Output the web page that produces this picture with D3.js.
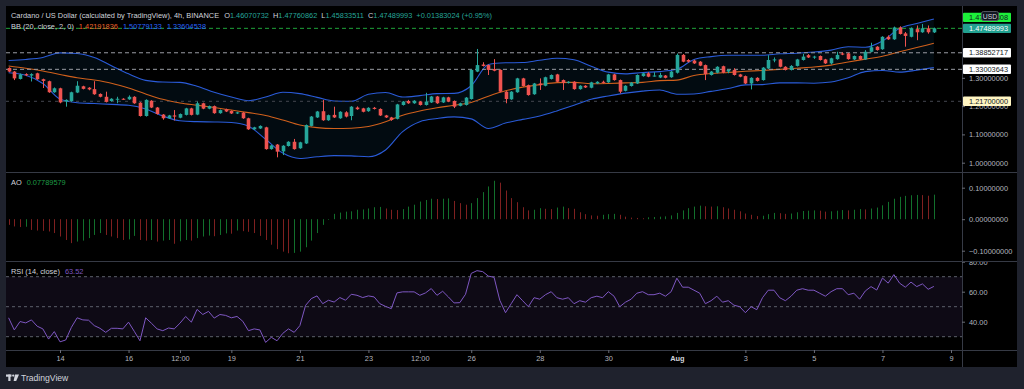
<!DOCTYPE html>
<html>
<head>
<meta charset="utf-8">
<script src="https://cdn.jsdelivr.net/npm/d3@7"></script>
<style>
html, body { margin: 0; padding: 0; background: #1f222d; }
svg { display: block; font-family: "Liberation Sans", Arial, sans-serif; }
</style>
</head>
<body>
<svg id="chart" width="1024" height="389"></svg>
<script>
// ---- data (ADA/USD 4h, BINANCE) ----
var firstCandle = Date.UTC(2021, 6, 12, 12); // first visible 4h bar
var barHours = 4;

var opens = [1.335,1.322,1.296,1.313,1.308,1.316,1.295,1.288,1.249,1.263,
 1.216,1.218,1.248,1.270,1.265,1.260,1.243,1.233,1.218,1.224,
 1.226,1.224,1.233,1.212,1.165,1.219,1.195,1.170,1.157,1.167,
 1.159,1.169,1.192,1.170,1.210,1.191,1.200,1.175,1.189,1.183,
 1.174,1.177,1.157,1.118,1.121,1.125,1.048,1.064,1.040,1.059,
 1.074,1.051,1.068,1.130,1.160,1.182,1.150,1.169,1.157,1.178,
 1.165,1.195,1.192,1.182,1.194,1.190,1.167,1.160,1.155,1.204,
 1.218,1.210,1.216,1.204,1.213,1.234,1.213,1.231,1.218,1.201,
 1.204,1.225,1.322,1.347,1.345,1.331,1.328,1.251,1.224,1.249,
 1.298,1.274,1.242,1.280,1.272,1.296,1.312,1.292,1.282,1.286,
 1.260,1.272,1.265,1.280,1.286,1.284,1.312,1.292,1.254,1.271,
 1.280,1.306,1.316,1.306,1.301,1.308,1.302,1.318,1.381,1.363,
 1.361,1.357,1.345,1.310,1.318,1.341,1.322,1.328,1.312,1.306,
 1.280,1.300,1.292,1.333,1.362,1.365,1.339,1.328,1.342,1.363,
 1.380,1.372,1.377,1.365,1.351,1.366,1.386,1.386,1.365,1.377,
 1.365,1.392,1.410,1.401,1.445,1.436,1.478,1.457,1.445,1.472,
 1.461,1.475,1.4607];

var highs = [1.337,1.324,1.315,1.316,1.316,1.318,1.297,1.290,1.266,1.265,
 1.224,1.251,1.288,1.272,1.267,1.288,1.245,1.251,1.228,1.233,
 1.228,1.238,1.235,1.214,1.224,1.221,1.197,1.172,1.169,1.186,
 1.174,1.194,1.194,1.216,1.212,1.202,1.202,1.188,1.191,1.185,
 1.180,1.179,1.159,1.127,1.132,1.127,1.063,1.066,1.062,1.076,
 1.084,1.074,1.135,1.165,1.183,1.222,1.170,1.198,1.182,1.182,
 1.200,1.199,1.194,1.196,1.197,1.192,1.169,1.162,1.208,1.218,
 1.222,1.221,1.218,1.247,1.236,1.236,1.233,1.233,1.220,1.212,
 1.232,1.330,1.402,1.355,1.347,1.366,1.330,1.253,1.253,1.300,
 1.300,1.276,1.282,1.298,1.304,1.312,1.314,1.294,1.288,1.288,
 1.274,1.274,1.286,1.288,1.290,1.314,1.314,1.294,1.274,1.285,
 1.312,1.318,1.320,1.320,1.318,1.310,1.324,1.386,1.384,1.366,
 1.364,1.359,1.347,1.324,1.341,1.343,1.330,1.334,1.314,1.308,
 1.302,1.302,1.338,1.380,1.372,1.367,1.341,1.345,1.367,1.385,
 1.384,1.378,1.379,1.367,1.371,1.392,1.390,1.388,1.379,1.379,
 1.398,1.424,1.412,1.447,1.450,1.481,1.482,1.462,1.478,1.485,
 1.490,1.485,1.4776];

var lows = [1.320,1.292,1.294,1.306,1.287,1.293,1.264,1.247,1.247,1.210,
 1.198,1.215,1.246,1.259,1.256,1.240,1.231,1.213,1.216,1.210,
 1.222,1.222,1.208,1.163,1.163,1.193,1.170,1.152,1.155,1.149,
 1.157,1.167,1.167,1.168,1.189,1.189,1.173,1.173,1.179,1.172,
 1.172,1.155,1.116,1.116,1.119,1.046,1.046,1.019,1.027,1.057,
 1.046,1.049,1.066,1.128,1.158,1.148,1.148,1.158,1.155,1.160,
 1.150,1.187,1.178,1.180,1.188,1.165,1.158,1.148,1.153,1.202,
 1.208,1.208,1.202,1.202,1.211,1.208,1.211,1.214,1.193,1.199,
 1.202,1.223,1.320,1.340,1.310,1.323,1.249,1.210,1.222,1.247,
 1.269,1.237,1.240,1.257,1.270,1.294,1.284,1.257,1.280,1.258,
 1.258,1.264,1.263,1.278,1.280,1.282,1.290,1.245,1.252,1.269,
 1.278,1.304,1.302,1.304,1.299,1.298,1.300,1.315,1.355,1.354,
 1.349,1.341,1.292,1.308,1.316,1.316,1.316,1.308,1.302,1.278,
 1.259,1.287,1.290,1.331,1.355,1.337,1.326,1.326,1.340,1.361,
 1.370,1.367,1.361,1.349,1.347,1.364,1.380,1.364,1.363,1.363,
 1.363,1.390,1.396,1.399,1.434,1.434,1.453,1.410,1.443,1.433,
 1.459,1.456,1.4583];

var closes = [1.322,1.298,1.312,1.309,1.313,1.295,1.289,1.249,1.263,1.213,
 1.222,1.249,1.272,1.261,1.259,1.242,1.233,1.215,1.226,1.226,
 1.224,1.233,1.210,1.165,1.222,1.195,1.172,1.157,1.167,1.163,
 1.172,1.192,1.169,1.210,1.191,1.200,1.175,1.186,1.181,1.174,
 1.178,1.157,1.118,1.125,1.130,1.048,1.061,1.039,1.060,1.074,
 1.048,1.072,1.133,1.163,1.181,1.150,1.168,1.160,1.180,1.163,
 1.198,1.189,1.180,1.194,1.190,1.167,1.160,1.151,1.206,1.216,
 1.210,1.219,1.204,1.216,1.234,1.210,1.231,1.216,1.198,1.210,
 1.230,1.328,1.345,1.342,1.328,1.325,1.251,1.225,1.251,1.298,
 1.271,1.239,1.280,1.274,1.302,1.310,1.286,1.282,1.286,1.260,
 1.272,1.266,1.284,1.286,1.282,1.312,1.292,1.251,1.272,1.283,
 1.310,1.316,1.304,1.308,1.310,1.300,1.322,1.381,1.357,1.357,
 1.351,1.343,1.313,1.322,1.339,1.318,1.328,1.310,1.304,1.280,
 1.300,1.289,1.336,1.363,1.365,1.339,1.328,1.342,1.365,1.375,
 1.372,1.375,1.363,1.351,1.369,1.381,1.382,1.366,1.377,1.365,
 1.392,1.408,1.398,1.445,1.436,1.478,1.455,1.448,1.475,1.461,
 1.475,1.461,1.4749];

// Bollinger bands, read every 3rd bar
var bbStep = 3;
var bbUpper = [1.361,1.365,1.372,1.388,1.386,1.372,1.343,1.314,1.291,1.285,
 1.284,1.270,1.249,1.232,1.219,1.232,1.249,1.244,1.231,1.218,
 1.217,1.242,1.248,1.232,1.237,1.244,1.245,1.272,1.347,1.353,
 1.354,1.362,1.369,1.364,1.341,1.320,1.314,1.319,1.322,1.330,
 1.365,1.375,1.380,1.380,1.380,1.385,1.387,1.391,1.398,1.410,
 1.408,1.430,1.475,1.492,1.508];
var bbBasis = [1.342,1.334,1.324,1.312,1.300,1.292,1.281,1.264,1.243,1.224,
 1.211,1.203,1.195,1.186,1.177,1.167,1.151,1.133,1.124,1.121,
 1.122,1.128,1.145,1.168,1.183,1.194,1.203,1.213,1.235,1.254,
 1.267,1.276,1.283,1.284,1.279,1.280,1.282,1.284,1.290,1.292,
 1.308,1.315,1.319,1.323,1.326,1.330,1.334,1.338,1.345,1.356,
 1.366,1.376,1.392,1.407,1.422];
var bbLower = [1.318,1.309,1.280,1.225,1.212,1.209,1.206,1.203,1.190,1.165,
 1.148,1.145,1.144,1.142,1.129,1.083,1.034,1.015,1.021,1.025,
 1.024,1.021,1.045,1.110,1.145,1.156,1.162,1.155,1.121,1.140,
 1.153,1.165,1.183,1.203,1.224,1.236,1.246,1.253,1.257,1.242,
 1.243,1.252,1.262,1.275,1.276,1.282,1.282,1.281,1.285,1.300,
 1.322,1.326,1.320,1.327,1.336];

var aoValues = [-0.018,-0.023,-0.025,-0.024,-0.034,-0.036,-0.037,-0.039,-0.044,-0.055,
 -0.066,-0.076,-0.071,-0.068,-0.060,-0.050,-0.044,-0.050,-0.055,-0.060,
 -0.066,-0.064,-0.053,-0.066,-0.068,-0.066,-0.071,-0.068,-0.066,-0.078,
 -0.070,-0.066,-0.068,-0.060,-0.055,-0.052,-0.054,-0.050,-0.045,-0.046,
 -0.036,-0.038,-0.040,-0.044,-0.053,-0.066,-0.081,-0.095,-0.103,-0.108,
 -0.107,-0.103,-0.089,-0.068,-0.044,-0.018,-0.002,0.017,0.021,0.024,
 0.025,0.030,0.031,0.034,0.038,0.039,0.034,0.030,0.029,0.032,
 0.040,0.046,0.056,0.061,0.065,0.064,0.065,0.066,0.058,0.051,
 0.046,0.051,0.067,0.086,0.104,0.122,0.116,0.091,0.067,0.054,
 0.038,0.028,0.030,0.035,0.033,0.032,0.037,0.040,0.035,0.033,
 0.022,0.016,0.012,0.011,0.014,0.016,0.017,0.014,0.008,0.005,
 0.004,0.003,0.006,0.007,0.008,0.009,0.012,0.020,0.028,0.035,
 0.040,0.043,0.041,0.040,0.041,0.038,0.034,0.030,0.025,0.018,
 0.014,0.010,0.011,0.016,0.020,0.019,0.017,0.018,0.022,0.026,
 0.027,0.028,0.027,0.024,0.025,0.027,0.029,0.028,0.030,0.032,
 0.031,0.034,0.037,0.044,0.055,0.065,0.071,0.074,0.076,0.077,
 0.0765,0.0745,0.0779];

var rsiValues = [42.6,34.5,40.1,39.2,41.2,37.0,35.2,28.4,33.4,26.6,
 27.8,36.3,42.6,41.2,41.0,37.4,35.6,32.9,35.6,35.6,
 35.2,39.7,33.6,27.3,42.6,39.0,35.2,34.0,35.8,35.2,
 39.0,43.5,39.7,48.2,44.8,46.9,42.4,44.8,44.2,42.6,
 43.5,40.3,34.0,35.2,34.5,26.2,29.6,27.3,32.2,35.2,
 32.9,37.4,50.9,55.4,57.2,52.0,54.3,53.1,56.1,54.3,
 58.3,57.6,56.1,57.2,56.5,52.0,50.2,48.7,59.2,59.9,
 59.9,59.9,57.6,59.2,62.1,57.6,60.3,56.5,52.5,52.7,
 58.3,72.2,74.0,73.4,70.4,69.6,54.3,46,52,58,
 54,50,56,55,58,60,56,55,56,52,
 54,53,56,57,56,60,57,50,53,55,
 59,60,58,58,59,57,60,69,63,63,
 61,59,52,54,57,53,54,51,50,46,
 50,48,56,61,61,56,54,57,61,62,
 61,61,59,57,60,62,62,58,59,55,
 60.5,63.4,61.1,69.1,65.7,71.4,65.7,63.0,66.4,63.4,
 65.2,61.6,63.52];

// time axis ticks
var tickDates = [[6,14,0],[6,16,0],[6,17,12],[6,19,0],[6,21,0],[6,23,0],[6,24,12],[6,26,0],
                 [6,28,0],[6,30,0],[7,1,0],[7,3,0],[7,5,0],[7,7,0],[7,9,0]];
var tickLabels = ["14","16","12:00","19","21","23","12:00","26","28","30","Aug","3","5","7","9"];

// price scale ticks that peek out from behind the labels
var priceTicks = [1.0, 1.1, 1.2, 1.3];

// horizontal price lines / labels on the price scale
var lastClose = 1.47489993;
var lineLevels = [1.38852717, 1.33003643];
var darkLevel = 1.217;
var darkLevelText = "1.21700000";

// ---- layout ----
var svg = d3.select("#chart");
var plotL = 6, plotR = 962, axisR = 1017;
var mainTop = 6, mainBot = 172, aoBot = 261, rsiBot = 350, timeBot = 367;
var axisColor = "#b2b5be", sepColor = "#363a45";
var up = "#26a69a", down = "#ef5350";

var x = d3.scaleUtc()
    .domain([new Date(Date.UTC(2021, 6, 14)), new Date(Date.UTC(2021, 7, 9))])
    .range([60, 951]);
var y = d3.scaleLinear().domain([1.0, 1.475]).range([162.7, 28.3]);
var yAO = d3.scaleLinear().domain([-0.1, 0.1]).range([250.7, 187.7]);
var yRSI = d3.scaleLinear().domain([40, 60]).range([321.7, 291.7]);

var times = closes.map(function(d, i) { return new Date(firstCandle + i * barHours * 3600e3); });
var bbTimes = bbUpper.map(function(d, i) { return times[i * bbStep]; });

// frame
svg.append("rect").attr("width", 1024).attr("height", 389).attr("fill", "#1f222d");
svg.append("rect").attr("x", plotL).attr("y", mainTop).attr("width", axisR - plotL)
    .attr("height", timeBot - mainTop).attr("fill", "#000");

var defs = svg.append("defs");
function clip(id, y0, y1) {
  defs.append("clipPath").attr("id", id).append("rect")
      .attr("x", plotL).attr("y", y0).attr("width", plotR - plotL).attr("height", y1 - y0);
}
clip("cMain", mainTop, mainBot);
clip("cAO", mainBot, aoBot);
clip("cRSI", aoBot, rsiBot);

// ---- main pane ----
var gMain = svg.append("g").attr("clip-path", "url(#cMain)");

var bandArea = d3.area()
    .x(function(d, i) { return x(bbTimes[i]); })
    .y0(function(d, i) { return y(bbLower[i]); })
    .y1(function(d) { return y(d); })
    .curve(d3.curveMonotoneX);
gMain.append("path").datum(bbUpper).attr("d", bandArea).attr("fill", "rgba(33,150,243,0.07)");

function bbLine(arr, color) {
  var line = d3.line()
      .x(function(d, i) { return x(bbTimes[i]); })
      .y(function(d) { return y(d); })
      .curve(d3.curveMonotoneX);
  gMain.append("path").datum(arr).attr("d", line)
      .attr("fill", "none").attr("stroke", color).attr("stroke-width", 1.1);
}
bbLine(bbUpper, "#2a5bd8");
bbLine(bbLower, "#2a5bd8");
bbLine(bbBasis, "#d0601c");

// dashed price lines
gMain.selectAll("line.lvl").data(lineLevels).join("line")
    .attr("x1", plotL).attr("x2", plotR)
    .attr("y1", function(d) { return y(d); }).attr("y2", function(d) { return y(d); })
    .attr("stroke", "#9a9ca4").attr("stroke-dasharray", "4,3");
gMain.append("line").attr("x1", plotL).attr("x2", plotR)
    .attr("y1", y(darkLevel)).attr("y2", y(darkLevel))
    .attr("stroke", "#44474f").attr("stroke-dasharray", "3,4");
gMain.append("line").attr("x1", plotL).attr("x2", plotR)
    .attr("y1", y(lastClose)).attr("y2", y(lastClose))
    .attr("stroke", "#1fa33a").attr("stroke-dasharray", "4,3");

// candles
var bodyW = 3.6;
var candle = gMain.selectAll("g.candle").data(closes).join("g").attr("class", "candle");
candle.append("line")
    .attr("x1", function(d, i) { return Math.round(x(times[i])) + 0.5; })
    .attr("x2", function(d, i) { return Math.round(x(times[i])) + 0.5; })
    .attr("y1", function(d, i) { return y(highs[i]); })
    .attr("y2", function(d, i) { return y(lows[i]); })
    .attr("stroke", function(d, i) { return d >= opens[i] ? up : down; });
candle.append("rect")
    .attr("x", function(d, i) { return Math.round(x(times[i])) + 0.5 - bodyW / 2; })
    .attr("width", bodyW)
    .attr("y", function(d, i) { return y(Math.max(d, opens[i])); })
    .attr("height", function(d, i) { return Math.max(1, Math.abs(y(d) - y(opens[i]))); })
    .attr("fill", function(d, i) { return d >= opens[i] ? up : down; });

// ---- AO pane ----
var gAO = svg.append("g").attr("clip-path", "url(#cAO)");
gAO.selectAll("line.ao").data(aoValues).join("line")
    .attr("x1", function(d, i) { return Math.round(x(times[i])) + 0.5; })
    .attr("x2", function(d, i) { return Math.round(x(times[i])) + 0.5; })
    .attr("y1", yAO(0))
    .attr("y2", function(d) { return yAO(d); })
    .attr("stroke-width", 1)
    .attr("stroke", function(d, i) { return (i > 0 && d > aoValues[i - 1]) ? "#12702c" : "#7f2020"; });

// ---- RSI pane ----
var gRSI = svg.append("g").attr("clip-path", "url(#cRSI)");
gRSI.append("rect").attr("x", plotL).attr("width", plotR - plotL)
    .attr("y", yRSI(70)).attr("height", yRSI(30) - yRSI(70))
    .attr("fill", "rgba(126,87,194,0.11)");
gRSI.selectAll("line.band").data([70, 50, 30]).join("line")
    .attr("x1", plotL).attr("x2", plotR)
    .attr("y1", function(d) { return yRSI(d); }).attr("y2", function(d) { return yRSI(d); })
    .attr("stroke", "#5d606b").attr("stroke-dasharray", "3,3");
gRSI.append("path").datum(rsiValues)
    .attr("d", d3.line().x(function(d, i) { return x(times[i]); }).y(function(d) { return yRSI(d); }))
    .attr("fill", "none").attr("stroke", "#7e57c2").attr("stroke-width", 1);

// ---- separators ----
[mainBot, aoBot, rsiBot].forEach(function(yy) {
  svg.append("line").attr("x1", plotL).attr("x2", axisR).attr("y1", yy + 0.5).attr("y2", yy + 0.5)
      .attr("stroke", sepColor);
});
svg.append("line").attr("x1", plotR + 0.5).attr("x2", plotR + 0.5).attr("y1", mainTop).attr("y2", timeBot)
    .attr("stroke", sepColor);

// ---- axes ----
function styleAxis(g) {
  g.select(".domain").remove();
  g.selectAll(".tick line").attr("stroke", "#6a6d78");
  g.selectAll(".tick text").attr("fill", axisColor).style("font-size", "7.4px");
}
var fmt8 = d3.format(".8f");
svg.append("g").attr("transform", "translate(" + plotR + ",0)")
    .call(d3.axisRight(y).tickValues(priceTicks).tickFormat(fmt8).tickSize(3).tickPadding(4))
    .call(styleAxis);
svg.append("g").attr("transform", "translate(" + plotR + ",0)")
    .call(d3.axisRight(yAO).tickValues([-0.1, 0, 0.1])
      .tickFormat(function(d) { return fmt8(d).replace("-", "\u2212"); }).tickSize(3).tickPadding(4))
    .call(styleAxis);
defs.append("clipPath").attr("id", "cRSIaxis").append("rect")
    .attr("x", plotR).attr("y", aoBot + 1).attr("width", 60).attr("height", rsiBot - aoBot - 1);
svg.append("g").attr("clip-path", "url(#cRSIaxis)").append("g").attr("transform", "translate(" + plotR + ",0)")
    .call(d3.axisRight(yRSI).tickValues([40, 60, 80]).tickFormat(d3.format(".2f")).tickSize(3).tickPadding(4))
    .call(styleAxis);

var tickD = tickDates.map(function(t) { return new Date(Date.UTC(2021, t[0], t[1], t[2])); });
var tAxis = svg.append("g").attr("transform", "translate(0," + rsiBot + ")")
    .call(d3.axisBottom(x).tickValues(tickD).tickFormat(function(d, i) { return tickLabels[i]; })
      .tickSize(3).tickPadding(3))
    .call(styleAxis);
tAxis.selectAll(".tick text").filter(function(d, i) { return tickLabels[i] === "Aug"; })
    .attr("font-weight", "bold").attr("fill", "#d1d4dc");

// ---- price scale labels ----
function priceLabel(yy, text, bg, fg) {
  svg.append("rect").attr("x", plotR + 1).attr("y", yy - 4.7).attr("width", 48).attr("height", 9.4)
      .attr("rx", 1).attr("fill", bg);
  svg.append("text").attr("x", 969).attr("y", yy + 2.6).attr("fill", fg)
      .style("font-size", "7.4px").text(text);
}
priceLabel(y(darkLevel), darkLevelText, "#fff5c2", "#131722");
lineLevels.forEach(function(v) { priceLabel(y(v), v.toFixed(8), "#ffffff", "#131722"); });
priceLabel(y(lastClose), lastClose.toFixed(8), "#22a190", "#ffffff");
priceLabel(y(lastClose) - 11, "1.47760808", "#1cf03a", "#131722");
svg.append("rect").attr("x", 981.5).attr("y", 11.5).attr("width", 17).attr("height", 9)
    .attr("rx", 2).attr("fill", "#131722").attr("stroke", "#50535e");
svg.append("text").attr("x", 990).attr("y", 18.5).attr("text-anchor", "middle")
    .attr("fill", "#d1d4dc").style("font-size", "6.8px").text("USD");

// ---- legends ----
function legend(yy, parts) {
  var t = svg.append("text").attr("x", 11).attr("y", yy).style("font-size", "7.4px");
  parts.forEach(function(p) {
    t.append("tspan").attr("dx", p[2] || 0).attr("fill", p[1]).text(p[0]);
  });
}
var txt = "#d1d4dc";
legend(18, [["Cardano / US Dollar (calculated by TradingView), 4h, BINANCE", txt],
  ["O", txt, 5], ["1.46070732", up], ["H", txt, 4], ["1.47760862", up], ["L", txt, 4], ["1.45833511", up],
  ["C", txt, 4], ["1.47489993", up], ["+0.01383024 (+0.95%)", up, 4]]);
legend(28.5, [["BB (20, close, 2, 0)", txt], ["1.42191836", "#f0622a", 5],
  ["1.50779133", "#2962ff", 5], ["1.33604538", "#2962ff", 5]]);
legend(185, [["AO", txt], ["0.07789579", "#1e9b45", 5]]);
legend(273.5, [["RSI (14, close)", txt], ["63.52", "#7e57c2", 5]]);

// ---- footer logo ----
var logo = svg.append("g").attr("fill", "#d1d4dc");
logo.append("rect").attr("x", 6).attr("y", 374.5).attr("width", 5.5).attr("height", 2.2);
logo.append("rect").attr("x", 8.3).attr("y", 374.5).attr("width", 2.2).attr("height", 6.5);
logo.append("circle").attr("cx", 13.2).attr("cy", 375.6).attr("r", 1.1);
logo.append("path").attr("d", "M15,374.5 L19,374.5 L16.2,381 L13.6,381 Z");
svg.append("text").attr("x", 21).attr("y", 381).attr("fill", "#d1d4dc")
    .style("font-size", "8.6px").text("TradingView");
</script>
</body>
</html>
